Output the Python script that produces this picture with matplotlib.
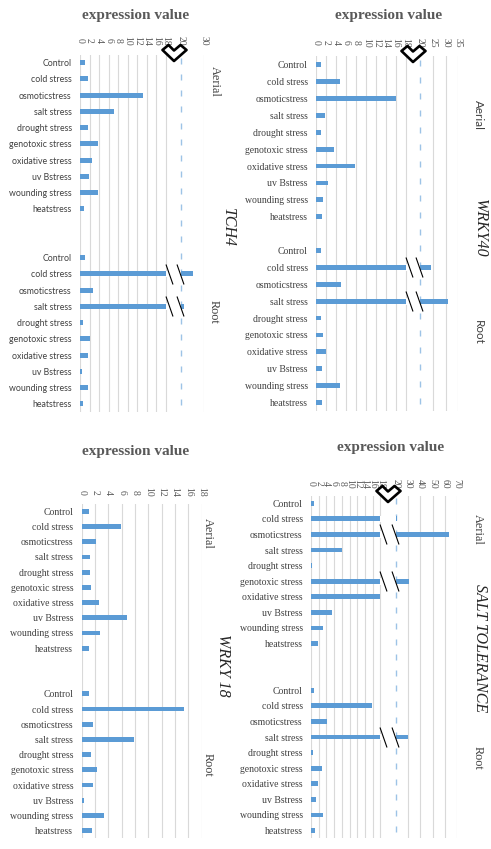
import numpy as np
import matplotlib
matplotlib.use("Agg")
import matplotlib.pyplot as plt
from matplotlib.path import Path
from matplotlib.transforms import blended_transform_factory

W, H = 491, 849

categories = ["Control", "cold stress", "osmoticstress", "salt stress", "drought stress",
              "genotoxic stress", "oxidative stress", "uv Bstress", "wounding stress", "heatstress"]

tch4_aerial = [1.1, 1.6, 13.1, 7.2, 1.6, 3.7, 2.5, 1.9, 3.7, 0.9]
tch4_root = [1.1, 25.3, 2.7, 21.4, 0.6, 2.1, 1.6, 0.4, 1.6, 0.6]
wrky40_aerial = [1.0, 4.7, 15.9, 1.8, 1.0, 3.6, 7.8, 2.3, 1.4, 1.2]
wrky40_root = [1.0, 24.2, 4.9, 30.8, 1.0, 1.4, 1.9, 1.2, 4.7, 1.2]
wrky18_aerial = [1.1, 5.85, 2.1, 1.25, 1.25, 1.4, 2.6, 6.85, 2.75, 1.1]
wrky18_root = [1.1, 15.3, 1.7, 7.85, 1.4, 2.25, 1.75, 0.4, 3.4, 1.55]
salt_aerial = [0.9, 21.4, 63.5, 8.0, 0.35, 31.0, 17.8, 5.5, 3.2, 1.8]
salt_root = [0.9, 15.8, 4.1, 30.0, 0.6, 2.9, 1.8, 1.2, 3.2, 1.0]

tch4_ticks = [0, 2, 4, 6, 8, 10, 12, 14, 16, 18, 20, 30]
wrky40_ticks = [0, 2, 4, 6, 8, 10, 12, 14, 16, 18, 20, 25, 30, 35]
wrky18_ticks = [0, 2, 4, 6, 8, 10, 12, 14, 16, 18]
salt_ticks = [0, 2, 4, 6, 8, 10, 12, 14, 16, 18, 20, 30, 40, 50, 60, 70]

BLUE = "#5b9bd5"
GRID = "#d9d9d9"
SERIF = "Liberation Serif"
SANS = "Lato"

fig = plt.figure(figsize=(W / 100, H / 100), dpi=100)


def make_scale(a, g, b):
    # 0-18 linear, 18-20 is the break gap, above 20 compressed
    def fwd(v):
        v = np.asarray(v, float)
        return np.where(v <= 18, v * a,
                        np.where(v <= 20, 18 * a + (v - 18) * g / 2, 18 * a + g + (v - 20) * b))

    def inv(u):
        u = np.asarray(u, float)
        return np.where(u <= 18 * a, u / a,
                        np.where(u <= 18 * a + g, 18 + (u - 18 * a) * 2 / g, 20 + (u - 18 * a - g) / b))
    return fwd, inv


slash = Path([(-0.35, 1), (0.35, -1)], [Path.MOVETO, Path.LINETO])
heart = Path([(-12, 5.5), (-6, 10.5), (-0.5, 5), (6, 10.5), (12, 5.5), (-0.5, -5.5), (-12, 5.5)], closed=True)


def panel(rect, aerial, root, ticks, gap_rows, brk, cat_family, tick_pad, no_slash=()):
    l, t, r, b = rect
    ax = fig.add_axes([l / W, 1 - b / H, (r - l) / W, (b - t) / H])
    n = 20 + gap_rows
    slot = (b - t) / n
    if brk:
        ax.set_xscale("function", functions=make_scale(*brk))
    ax.set_xlim(0, ticks[-1])
    ax.set_ylim(n - 0.5, -0.5)
    ya = np.arange(10)
    yr = np.arange(10) + 10 + gap_rows
    h = 4.8 / slot
    ax.barh(ya, aerial, height=h, color=BLUE, zorder=2)
    ax.barh(yr, root, height=h, color=BLUE, zorder=2)

    ax.set_xticks(ticks)
    ax.set_xticklabels([str(v) for v in ticks], rotation=-90, va="center",
                       fontsize=7, family=SERIF, color="#595959")
    ax.xaxis.tick_top()
    ax.tick_params(axis="x", length=0, pad=tick_pad * 0.72)
    ax.set_yticks(np.concatenate([ya, yr]))
    if cat_family == SANS:
        ax.set_yticklabels(categories * 2, fontsize=6.3, family=SANS, color="#404040")
    else:
        ax.set_yticklabels(categories * 2, fontsize=7, family=SERIF, color="#404040")
    ax.tick_params(axis="y", length=0, pad=6)
    for s in ax.spines.values():
        s.set_visible(False)
    ax.set_axisbelow(True)
    ax.grid(axis="x", color=GRID, lw=0.8)
    ax.grid(axis="y", visible=False)

    if brk:
        ax.get_xgridlines()[ticks.index(20)].set_visible(False)
        # short light-blue marks at 20 on every row (the overlaid axis)
        ax.plot(np.full(n, 20), np.arange(n) - 0.12, ls="none", marker="|", ms=4.3,
                mec="#9dc3e6", mew=1, zorder=1)
        vals = np.array(aerial + root)
        ys = np.concatenate([ya, yr])
        big = vals > 20
        ax.barh(ys[big], 2, left=18, height=h * 1.4, color="white", zorder=3)
        sl = np.array([big[i] and i not in no_slash for i in range(20)])
        for xs in (18.4, 19.85):
            ax.plot(np.full(sl.sum(), xs), ys[sl], ls="none", marker=slash, ms=14.4,
                    mfc="none", mec="black", mew=0.8, zorder=4)
        tr = blended_transform_factory(ax.transData, ax.transAxes)
        ax.plot([19], [1], transform=tr, marker=heart, ms=17.3, mfc="white", mec="black",
                mew=1.9, clip_on=False, zorder=5)
    return ax


panel((80, 54.5, 204, 412), tch4_aerial, tch4_root, tch4_ticks, 2, (4.78, 15, 2.3), SANS, 14)
panel((316.3, 56.2, 458.3, 411), wrky40_aerial, wrky40_root, wrky40_ticks, 1, (5.0, 14.3, 2.53), SERIF, 13.7)
panel((81.7, 503.7, 201.7, 838.3), wrky18_aerial, wrky18_root, wrky18_ticks, 2, None, SERIF, 11.7)
panel((311, 495.5, 457.3, 838.3), salt_aerial, salt_root, salt_ticks, 2, (3.85, 15.4, 1.23), SERIF, 12,
      no_slash=(1,))


def ftext(x, y, s, **kw):
    fig.text(x / W, 1 - y / H, s, ha="center", va="center", **kw)


for x, y in [(136, 16), (389, 16), (136, 451), (391, 448)]:
    ftext(x, y, "expression value", fontsize=11, weight="bold", family=SERIF, color="#595959")

side = [
    (215, 81, "Aerial", SERIF), (214, 312, "Root", SERIF),
    (478, 115, "Aerial", SANS), (478, 332, "Root", SANS),
    (208, 533, "Aerial", SERIF), (208, 765, "Root", SERIF),
    (478, 529, "Aerial", SERIF), (478, 758, "Root", SERIF),
]
for x, y, s, fam in side:
    ftext(x, y, s, rotation=-90, fontsize=8.8 if fam == SERIF else 8.4, family=fam, color="#404040")

genes = [(228, 228, "TCH4"), (480, 228, "WRKY40"), (223, 665, "WRKY 18"), (480, 648, "SALT TOLERANCE")]
for x, y, s in genes:
    ftext(x, y, s, rotation=-90, fontsize=11.5, family=SERIF, style="italic", color="#262626")

fig.savefig("out.png", dpi=100)
